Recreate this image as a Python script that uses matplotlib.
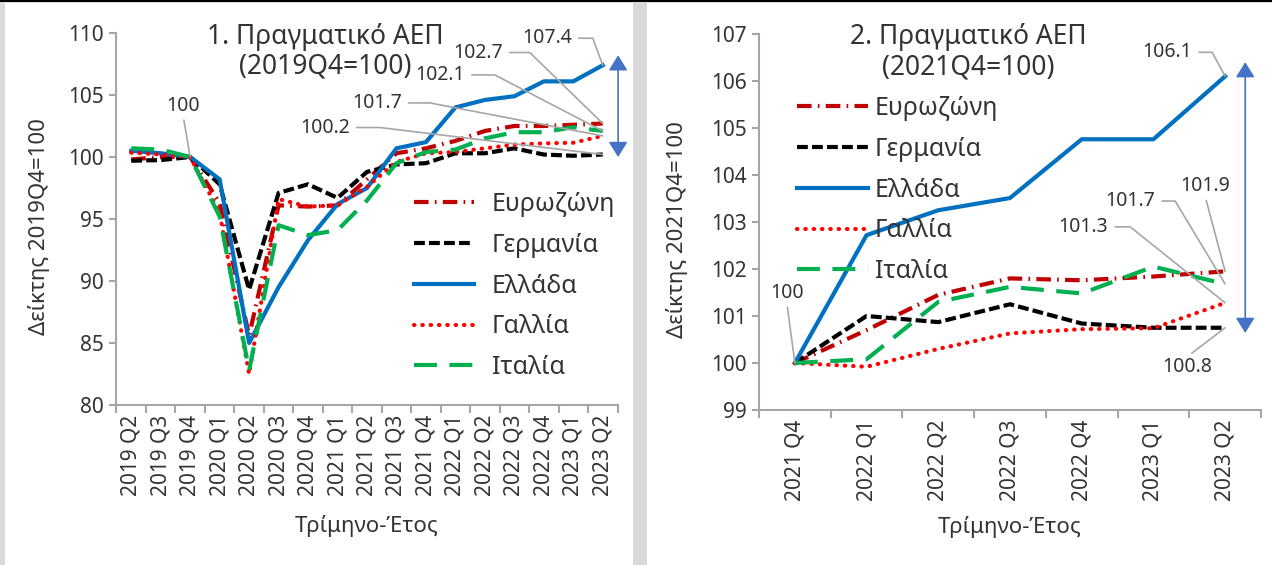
import numpy as np
import matplotlib
matplotlib.use('Agg')
import matplotlib.pyplot as plt
from matplotlib.patches import Rectangle

plt.rcParams['font.family'] = ['Noto Sans', 'DejaVu Sans']

# ---- data: panel 1 (2019Q4 = 100) ----
quarters_1 = ['2019 Q2', '2019 Q3', '2019 Q4', '2020 Q1', '2020 Q2', '2020 Q3',
              '2020 Q4', '2021 Q1', '2021 Q2', '2021 Q3', '2021 Q4', '2022 Q1',
              '2022 Q2', '2022 Q3', '2022 Q4', '2023 Q1', '2023 Q2']
euro_1 = [99.8, 100.0, 100.0, 96.3, 85.6, 96.1, 96.0, 96.1, 98.2, 100.3, 100.7,
          101.3, 102.1, 102.5, 102.5, 102.6, 102.7]
germany_1 = [99.7, 99.75, 100.0, 97.8, 89.3, 97.1, 97.8, 96.7, 98.8, 99.4, 99.5,
             100.3, 100.3, 100.7, 100.2, 100.1, 100.2]
greece_1 = [100.5, 100.3, 100.0, 98.2, 85.0, 89.5, 93.3, 96.2, 97.5, 100.7, 101.2,
            104.0, 104.6, 104.9, 106.1, 106.1, 107.4]
france_1 = [100.35, 100.2, 100.0, 95.5, 82.5, 96.6, 96.0, 96.1, 97.6, 99.6, 100.3,
            100.4, 100.7, 101.0, 101.1, 101.15, 101.7]
italy_1 = [100.7, 100.6, 100.0, 95.2, 82.8, 94.5, 93.7, 94.1, 96.5, 99.5, 100.4,
           100.6, 101.5, 102.0, 102.0, 102.4, 102.1]

# ---- data: panel 2 (2021Q4 = 100) ----
quarters_2 = ['2021 Q4', '2022 Q1', '2022 Q2', '2022 Q3', '2022 Q4', '2023 Q1', '2023 Q2']
euro_2 = [100.0, 100.7, 101.45, 101.8, 101.76, 101.84, 101.95]
germany_2 = [100.0, 101.0, 100.87, 101.25, 100.84, 100.75, 100.75]
greece_2 = [100.0, 102.72, 103.25, 103.51, 104.76, 104.76, 106.1]
france_2 = [100.0, 99.92, 100.3, 100.63, 100.72, 100.74, 101.28]
italy_2 = [100.0, 100.08, 101.3, 101.62, 101.48, 102.05, 101.68]

names = ['Ευρωζώνη', 'Γερμανία', 'Ελλάδα', 'Γαλλία', 'Ιταλία']

GREY = '#A6A6A6'
TXT = '#333333'
W, H = 1272, 565

styles = [
    dict(color='#C00000', dashes=(3.5, 1.5, 0.4, 1.5)),
    dict(color='black', dashes=(2.6, 1.0)),
    dict(color='#0070C0', linestyle='-'),
    dict(color='#FF0000', dashes=(0.1, 1.9), dash_capstyle='round'),
    dict(color='#00B050', dashes=(5.5, 3.0)),
]


def label(ax, x, y, text, dx, dy, corner=None):
    if corner is None:
        rel = (0.5, 0.0) if dy > 0 else (0.5, 1.0)
        ax.annotate(text, (x, y), xytext=(dx, dy), textcoords='offset pixels',
                    ha='center', va='center', fontsize=14, color=TXT,
                    annotation_clip=False,
                    arrowprops=dict(arrowstyle='-', color=GREY, lw=1.2, relpos=rel,
                                    shrinkA=1, shrinkB=0))
    else:
        ang = np.degrees(np.arctan2(dy, corner))
        ax.annotate(text, (x, y), xytext=(dx, dy), textcoords='offset pixels',
                    ha='right', va='center', fontsize=14, color=TXT,
                    annotation_clip=False,
                    arrowprops=dict(arrowstyle='-', color=GREY, lw=1.2, relpos=(1, 0.5),
                                    shrinkA=3, shrinkB=0,
                                    connectionstyle=f'angle,angleA=0,angleB={ang},rad=0'))


def panel(ax, quarters, series, ylim, ystep, title, ylabel, title_y):
    x = np.arange(len(quarters))
    for vals, name, st in zip(series, names, styles):
        ax.plot(x, vals, lw=3, label=name, **st)
    ax.set_xlim(-0.5, len(quarters) - 0.5)
    ax.set_ylim(*ylim)
    ax.set_yticks(np.arange(ylim[0], ylim[1] + 0.01, ystep))
    ax.set_xticks(x)
    ax.set_xticklabels(quarters, rotation=90, fontsize=15, color=TXT)
    ax.set_xticks(np.arange(len(quarters) + 1) - 0.5, minor=True)
    ax.tick_params(axis='x', which='major', length=0, pad=7)
    ax.tick_params(axis='x', which='minor', length=6, width=1.5, color=GREY)
    ax.tick_params(axis='y', length=5, width=1.5, color=GREY, labelsize=15,
                   labelcolor=TXT, pad=4)
    for s in ['top', 'right']:
        ax.spines[s].set_visible(False)
    for s in ['left', 'bottom']:
        ax.spines[s].set_color(GREY)
        ax.spines[s].set_linewidth(1.5)
    ax.set_xlabel('Τρίμηνο-Έτος', fontsize=16, color=TXT)
    ax.set_ylabel(ylabel, fontsize=16, color=TXT)
    ax.text(0.416, title_y[0], title[0], transform=ax.transAxes, ha='center',
            va='center', fontsize=19, color=TXT)
    ax.text(0.416, title_y[1], title[1], transform=ax.transAxes, ha='center',
            va='center', fontsize=19, color=TXT)


fig = plt.figure(figsize=(W / 100, H / 100), dpi=100, facecolor='#D9D9D9')
fig.add_artist(Rectangle((5 / W, 0), 628 / W, 1 - 3 / H, transform=fig.transFigure,
                         facecolor='white', edgecolor='none', zorder=-1))
fig.add_artist(Rectangle((647 / W, 0), 625 / W, 1 - 3 / H, transform=fig.transFigure,
                         facecolor='white', edgecolor='none', zorder=-1))
fig.add_artist(Rectangle((0, 1 - 2 / H), 1, 2 / H, transform=fig.transFigure,
                         facecolor='black', edgecolor='none', zorder=-1))

ax1 = fig.add_axes([116.5 / W, 1 - 405 / H, 501 / W, 372 / H])
ax2 = fig.add_axes([759 / W, 1 - 410 / H, 502 / W, 376 / H])
for a in (ax1, ax2):
    a.set_facecolor('none')

panel(ax1, quarters_1, [euro_1, germany_1, greece_1, france_1, italy_1], (80, 110), 5,
      ('1. Πραγματικό ΑΕΠ', '(2019Q4=100)'), 'Δείκτης 2019Q4=100', (0.989, 0.909))
panel(ax2, quarters_2, [euro_2, germany_2, greece_2, france_2, italy_2], (99, 107), 1,
      ('2. Πραγματικό ΑΕΠ', '(2021Q4=100)'), 'Δείκτης 2021Q4=100', (0.992, 0.912))

ax1.xaxis.set_label_coords(0.5, -0.295)
ax2.xaxis.set_label_coords(0.5, -0.283)
ax1.yaxis.set_label_coords(-0.133, 0.48)
ax2.yaxis.set_label_coords(-0.141, 0.48)

leg_kw = dict(frameon=False, fontsize=18, labelcolor=TXT, loc='upper left',
              borderaxespad=0, borderpad=0)
ax1.legend(bbox_to_anchor=(0.594, 0.572), handlelength=2.4, handletextpad=0.7,
           labelspacing=0.63, **leg_kw)
ax2.legend(bbox_to_anchor=(0.076, 0.835), handlelength=2.85, handletextpad=0.25,
           labelspacing=0.63, **leg_kw)

# data labels panel 1
last1 = len(quarters_1) - 1
label(ax1, 2, 100.0, '100', -7, 51)
label(ax1, last1, greece_1[-1], '107.4', -31, 27, corner=-10)
label(ax1, last1, euro_1[-1], '102.7', -100, 71, corner=-73)
label(ax1, last1, italy_1[-1], '102.1', -138, 56, corner=-108)
label(ax1, last1, france_1[-1], '101.7', -201, 33, corner=-173)
label(ax1, last1, germany_1[-1], '100.2', -253, 27, corner=-223)

# data labels panel 2
last2 = len(quarters_2) - 1
label(ax2, 0, greece_2[0], '100', -8, 70)
label(ax2, last2, greece_2[-1], '106.1', -33, 24, corner=-13)
label(ax2, last2, euro_2[-1], '101.9', -20, 85)
label(ax2, last2, italy_2[-1], '101.7', -70, 83, corner=-50)
label(ax2, last2, france_2[-1], '101.3', -117, 76, corner=-95)
label(ax2, last2, germany_2[-1], '100.8', -38, -39)

# gap arrows
arr = dict(arrowstyle='<|-|>,head_length=0.4,head_width=0.25', color='#4472C4',
           lw=1.2, mutation_scale=23, shrinkA=0, shrinkB=0)
ax1.annotate('', xy=(16.52, 100.0), xytext=(16.52, 108.2), arrowprops=arr,
             annotation_clip=False)
ax2.annotate('', xy=(6.28, 100.64), xytext=(6.28, 106.4), arrowprops=arr,
             annotation_clip=False)

fig.savefig('out.png', dpi=100, facecolor=fig.get_facecolor())
